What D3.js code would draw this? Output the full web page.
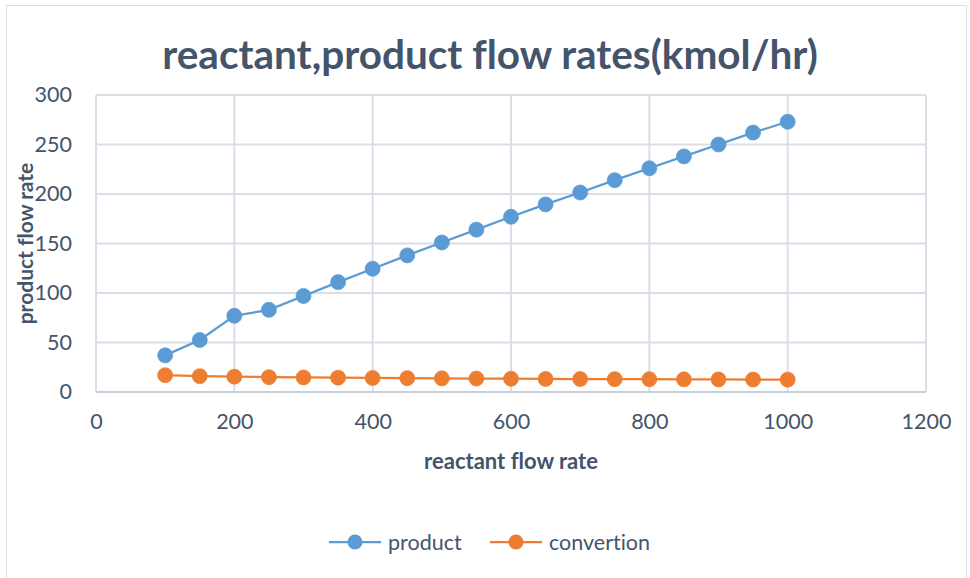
<!DOCTYPE html>
<html>
<head>
<meta charset="utf-8">
<script src="https://cdn.jsdelivr.net/npm/d3@7"></script>
<style>
  body { margin: 0; background: #fff; }
  text { font-family: Lato, "Open Sans", sans-serif; font-variant-ligatures: none; }
</style>
</head>
<body>
<div id="chart"></div>
<script>
const reactant = [100, 150, 200, 250, 300, 350, 400, 450, 500, 550, 600, 650, 700, 750, 800, 850, 900, 950, 1000];
const product = [37, 52.5, 77, 83, 97, 111, 124.5, 138, 151, 164, 177, 189.5, 201.5, 214, 226, 238, 250, 262, 273];
const convertion = [17, 16, 15.5, 15, 14.7, 14.5, 14.2, 14, 13.8, 13.6, 13.4, 13.2, 13.1, 13, 12.9, 12.8, 12.7, 12.6, 12.5];
const xTicks = [0, 200, 400, 600, 800, 1000, 1200];
const yTicks = [0, 50, 100, 150, 200, 250, 300];

const width = 970;
const height = 578;
const margin = { top: 95, right: 44, bottom: 186, left: 96 };
const textColor = "#44546a";
const gridColor = "#d9dee7";

const svg = d3.select("#chart")
  .append("svg")
  .attr("width", width)
  .attr("height", height);

// outer chart border
svg.append("rect")
  .attr("x", 6.5)
  .attr("y", 5.5)
  .attr("width", 960)
  .attr("height", 600)
  .attr("fill", "none")
  .attr("stroke", "#d9dee7");

const x = d3.scaleLinear().domain([0, 1200]).range([margin.left, width - margin.right]);
const y = d3.scaleLinear().domain([0, 300]).range([height - margin.bottom, margin.top]);

// gridlines
svg.append("g")
  .selectAll("line")
  .data(yTicks)
  .join("line")
  .attr("x1", x(0)).attr("x2", x(1200))
  .attr("y1", d => y(d)).attr("y2", d => y(d))
  .attr("stroke", gridColor)
  .attr("stroke-width", 2);

svg.append("g")
  .selectAll("line")
  .data(xTicks)
  .join("line")
  .attr("x1", d => x(d)).attr("x2", d => x(d))
  .attr("y1", y(0)).attr("y2", y(300))
  .attr("stroke", gridColor)
  .attr("stroke-width", 2);

// axis baseline
svg.append("line")
  .attr("x1", x(0)).attr("x2", x(1200))
  .attr("y1", y(0)).attr("y2", y(0))
  .attr("stroke", "#c3cad6")
  .attr("stroke-width", 1.5);

// axes (labels only)
const xAxis = svg.append("g")
  .attr("transform", `translate(0,${y(0)})`)
  .call(d3.axisBottom(x).tickValues(xTicks).tickFormat(d3.format("d")).tickSize(0).tickPadding(22));
const yAxis = svg.append("g")
  .attr("transform", `translate(${x(0)},0)`)
  .call(d3.axisLeft(y).tickValues(yTicks).tickFormat(d3.format("d")).tickSize(0).tickPadding(24));

[xAxis, yAxis].forEach(a => {
  a.select(".domain").remove();
  a.selectAll("text")
    .attr("fill", textColor)
    .style("font-size", "21.5px")
    .style("font-family", "Lato, 'Open Sans', sans-serif");
});

// title
svg.append("text")
  .attr("x", 490)
  .attr("y", 69)
  .attr("text-anchor", "middle")
  .attr("fill", textColor)
  .style("font-size", "40.5px")
  .style("font-weight", "bold")
  .text("reactant,product flow rates(kmol/hr)");

svg.append("text")
  .attr("x", (x(0) + x(1200)) / 2)
  .attr("y", 469)
  .attr("text-anchor", "middle")
  .attr("fill", textColor)
  .style("font-size", "22px")
  .style("font-weight", "bold")
  .text("reactant flow rate");

svg.append("text")
  .attr("transform", `translate(33,${(y(0) + y(300)) / 2}) rotate(-90)`)
  .attr("text-anchor", "middle")
  .attr("fill", textColor)
  .style("font-size", "21px")
  .style("font-weight", "bold")
  .text("product flow rate");

const series = [
  { name: "product", values: product, color: "#5b9bd5" },
  { name: "convertion", values: convertion, color: "#ed7d31" }
];

const line = d3.line()
  .x((d, i) => x(reactant[i]))
  .y(d => y(d));

series.forEach(s => {
  svg.append("path")
    .datum(s.values)
    .attr("d", line)
    .attr("fill", "none")
    .attr("stroke", s.color)
    .attr("stroke-width", 2.25);

  svg.append("g")
    .selectAll("circle")
    .data(s.values)
    .join("circle")
    .attr("cx", (d, i) => x(reactant[i]))
    .attr("cy", d => y(d))
    .attr("r", 7.5)
    .attr("fill", s.color)
    .attr("stroke", s.color)
    .attr("stroke-width", 0.75);
});

// legend
const legendPos = [329, 490];
const legend = svg.append("g")
  .selectAll("g")
  .data(series)
  .join("g")
  .attr("transform", (d, i) => `translate(${legendPos[i]},542)`);

legend.append("line")
  .attr("x1", 0).attr("x2", 52)
  .attr("stroke", d => d.color)
  .attr("stroke-width", 2.25);
legend.append("circle")
  .attr("cx", 26)
  .attr("r", 7.5)
  .attr("fill", d => d.color);
legend.append("text")
  .attr("x", 59)
  .attr("y", 7.5)
  .attr("fill", textColor)
  .style("font-size", "21.5px")
  .text(d => d.name);
</script>
</body>
</html>
